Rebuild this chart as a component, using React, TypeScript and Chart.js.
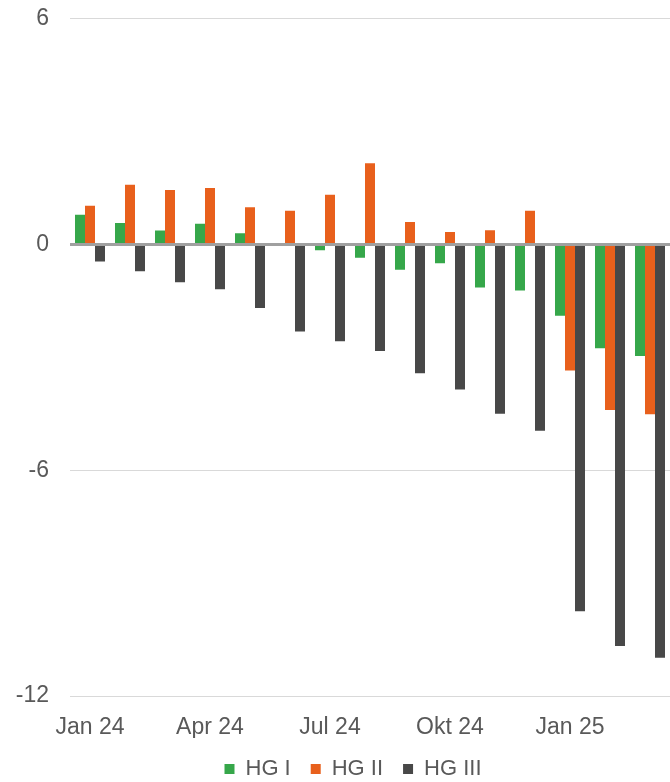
import React, { useEffect, useRef } from "react";
import { Chart, registerables } from "chart.js";

Chart.register(...registerables);

const categories = [
  "Jan 24", "Feb 24", "Mär 24", "Apr 24", "Mai 24", "Jun 24", "Jul 24", "Aug 24",
  "Sep 24", "Okt 24", "Nov 24", "Dez 24", "Jan 25", "Feb 25", "Mär 25",
];
const shownLabels = ["Jan 24", "Apr 24", "Jul 24", "Okt 24", "Jan 25"];

const hg1 = [0.79, 0.57, 0.37, 0.55, 0.3, 0.0, -0.15, -0.35, -0.67, -0.5, -1.14, -1.22, -1.89, -2.76, -2.96];
const hg2 = [1.03, 1.59, 1.45, 1.5, 0.99, 0.9, 1.32, 2.16, 0.6, 0.33, 0.38, 0.9, -3.35, -4.4, -4.51];
const hg3 = [-0.45, -0.71, -1.0, -1.19, -1.69, -2.31, -2.57, -2.83, -3.42, -3.85, -4.5, -4.95, -9.75, -10.67, -10.98];

const yTicks = [6, 0, -6, -12];

const FONT = "'Liberation Sans', Arial, sans-serif";
const TEXT = "#595959";

const zeroLinePlugin = {
  id: "zeroLine",
  afterDatasetsDraw(chart: any) {
    const { ctx, chartArea, scales } = chart;
    const y = scales.y.getPixelForValue(0);
    ctx.save();
    ctx.strokeStyle = "#a0a0a0";
    ctx.lineWidth = 3;
    ctx.beginPath();
    ctx.moveTo(chartArea.left, y);
    ctx.lineTo(chartArea.right, y);
    ctx.stroke();
    ctx.restore();
  },
};

export default function App() {
  const ref = useRef<HTMLCanvasElement>(null);
  useEffect(() => {
    document.body.style.margin = "0";
    const chart = new Chart(ref.current!, {
      type: "bar",
      data: {
        labels: categories,
        datasets: [
          { label: "HG I", data: hg1, backgroundColor: "#36a74a" },
          { label: "HG II", data: hg2, backgroundColor: "#e8601c" },
          { label: "HG III", data: hg3, backgroundColor: "#484848" },
        ],
      },
      options: {
        animation: false,
        responsive: false,
        maintainAspectRatio: false,
        datasets: { bar: { categoryPercentage: 0.75, barPercentage: 1.0 } },
        layout: { padding: { top: 4, right: 0, left: 0, bottom: 0 } },
        plugins: {
          tooltip: { enabled: false },
          legend: {
            position: "bottom",
            labels: {
              boxWidth: 10,
              boxHeight: 10,
              color: TEXT,
              font: { family: FONT, size: 22 },
              padding: 20,
            },
          },
        },
        scales: {
          x: {
            grid: { display: false },
            border: { display: false },
            afterFit: (s: any) => {
              s.height = 42;
            },
            ticks: {
              autoSkip: false,
              maxRotation: 0,
              color: TEXT,
              font: { family: FONT, size: 23 },
              padding: 10,
              callback: (_v: any, i: number) =>
                shownLabels.includes(categories[i]) ? categories[i] : "",
            },
          },
          y: {
            min: -12,
            max: 6,
            afterBuildTicks: (s: any) => {
              s.ticks = yTicks.map((v) => ({ value: v }));
            },
            afterFit: (s: any) => {
              s.width = 70;
            },
            border: { display: false },
            grid: {
              color: (c: any) => (c.tick && c.tick.value === 0 ? "rgba(0,0,0,0)" : "#d9d9d9"),
              lineWidth: 1,
              drawTicks: false,
            },
            ticks: {
              color: TEXT,
              font: { family: FONT, size: 23 },
              padding: 21,
            },
          },
          yRight: {
            type: "linear",
            position: "right",
            display: true,
            grid: { display: false, drawTicks: false },
            border: { display: false },
            ticks: { display: false },
            afterFit: (s: any) => {
              s.width = 36;
            },
          },
        },
      },
      plugins: [zeroLinePlugin],
    });
    return () => chart.destroy();
  }, []);
  return (
    <div style={{ width: 670, height: 782, overflow: "hidden", background: "#fff" }}>
      <canvas ref={ref} width={706} height={806} style={{ display: "block", marginTop: -16 }} />
    </div>
  );
}
